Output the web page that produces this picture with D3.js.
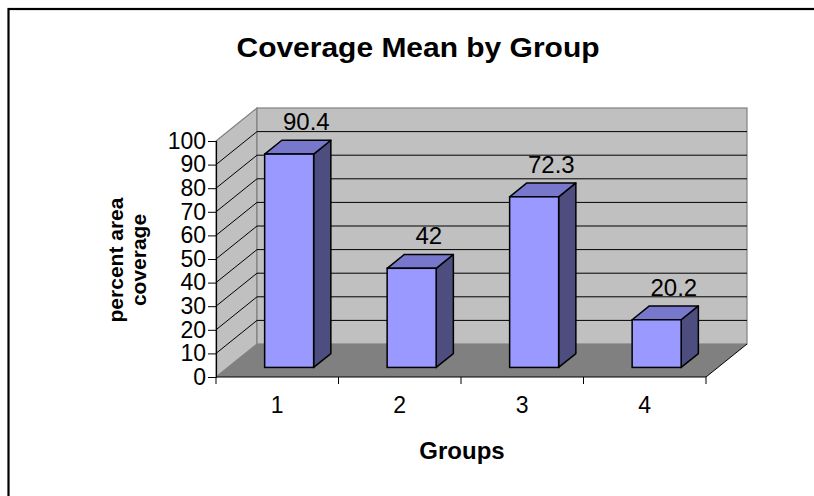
<!DOCTYPE html>
<html>
<head>
<meta charset="utf-8">
<script src="https://cdn.jsdelivr.net/npm/d3@7"></script>
<style>
  html, body { margin: 0; padding: 0; background: #fff; }
  svg { display: block; font-family: Arial, "Liberation Sans", sans-serif; }
</style>
</head>
<body>
<svg id="chart" width="814" height="496"></svg>
<script>
const categories = ["1", "2", "3", "4"];
const values = [90.4, 42, 72.3, 20.2];
const valueLabels = ["90.4", "42", "72.3", "20.2"];
const yTicks = [0, 10, 20, 30, 40, 50, 60, 70, 80, 90, 100];
const titleText = "Coverage Mean by Group";
const xTitle = "Groups";
const yTitleLines = ["percent area", "coverage"];

const svg = d3.select("#chart");

// frame
svg.append("rect").attr("x", 8.5).attr("y", 9).attr("width", 830).attr("height", 520)
  .attr("fill", "#fff").attr("stroke", "#000").attr("stroke-width", 2.2);

const DX = 41, DY = -33;       // depth offset of the plot box
const f0 = 0.29, f1 = 0.71;    // bar front/back depth fractions

const x = d3.scaleBand().domain(categories).range([216, 706]);
const y = d3.scaleLinear().domain([0, 100]).range([377, 141]);

const xl = x.range()[0], xr = x.range()[1];
const y0 = y(0), yTop = y(100);

// side wall
svg.append("polygon")
  .attr("points", [[xl, yTop], [xl + DX, yTop + DY], [xl + DX, y0 + DY], [xl, y0]].join(" "))
  .attr("fill", "#c0c0c0").attr("stroke", "#808080").attr("stroke-width", 1.2);
// back wall
svg.append("rect")
  .attr("x", xl + DX).attr("y", yTop + DY).attr("width", xr - xl).attr("height", y0 - yTop)
  .attr("fill", "#c0c0c0").attr("stroke", "#808080").attr("stroke-width", 1.2);
// floor
svg.append("polygon")
  .attr("points", [[xl, y0], [xr, y0], [xr + DX, y0 + DY], [xl + DX, y0 + DY]].join(" "))
  .attr("fill", "#808080");
svg.append("line").attr("x1", xr).attr("y1", y0).attr("x2", xr + DX).attr("y2", y0 + DY)
  .attr("stroke", "#000").attr("stroke-width", 1);

// gridlines
const grid = yTicks.filter(t => t > 0 && t < 100);
svg.append("g").selectAll("line").data(grid).join("line")
  .attr("x1", xl + DX).attr("x2", xr + DX)
  .attr("y1", d => y(d) + DY).attr("y2", d => y(d) + DY)
  .attr("stroke", "#000").attr("stroke-width", 1);
svg.append("g").selectAll("line").data(grid).join("line")
  .attr("x1", xl).attr("x2", xl + DX)
  .attr("y1", d => y(d)).attr("y2", d => y(d) + DY)
  .attr("stroke", "#000").attr("stroke-width", 1);

// y axis
const yAxis = d3.axisLeft(y).tickValues(yTicks).tickSize(8).tickPadding(2).tickFormat(d3.format("d"));
const gy = svg.append("g").attr("transform", `translate(${xl},0)`).call(yAxis);
gy.select(".domain").attr("stroke", "#000").attr("stroke-width", 1.2);
gy.selectAll(".tick line").attr("stroke", "#000");
gy.selectAll(".tick text").attr("font-size", 23).attr("fill", "#000")
  .attr("font-family", "Arial, 'Liberation Sans', sans-serif");

// x axis
const boundaries = categories.map(c => x(c)).concat([xr]);
svg.append("line").attr("x1", xl).attr("x2", xr).attr("y1", y0).attr("y2", y0)
  .attr("stroke", "#000").attr("stroke-width", 1.2);
svg.append("g").selectAll("line").data(boundaries).join("line")
  .attr("x1", d => d).attr("x2", d => d).attr("y1", y0).attr("y2", y0 + 7)
  .attr("stroke", "#000").attr("stroke-width", 1);
svg.append("g").selectAll("text").data(categories).join("text")
  .attr("x", d => x(d) + x.bandwidth() / 2).attr("y", 413)
  .attr("text-anchor", "middle").attr("font-size", 23).text(d => d);

// bars
const bw = x.bandwidth() * 0.4;
const bdx = (f1 - f0) * DX, bdy = (f1 - f0) * DY;
const data = categories.map((c, i) => ({ c, v: values[i], label: valueLabels[i] }));
const bars = svg.append("g").selectAll("g").data(data).join("g");
bars.each(function (d) {
  const g = d3.select(this);
  const L = x(d.c) + (x.bandwidth() - bw) / 2 + f0 * DX;
  const R = L + bw;
  const B = y(0) + f0 * DY;
  const T = y(d.v) + f0 * DY;
  g.append("polygon").attr("points", [[R, T], [R + bdx, T + bdy], [R + bdx, B + bdy], [R, B]].join(" "))
    .attr("fill", "#4d4d80").attr("stroke", "#000").attr("stroke-width", 1.5).attr("stroke-linejoin", "round");
  g.append("polygon").attr("points", [[L, T], [L + bdx, T + bdy], [R + bdx, T + bdy], [R, T]].join(" "))
    .attr("fill", "#7777cc").attr("stroke", "#000").attr("stroke-width", 1.5).attr("stroke-linejoin", "round");
  g.append("rect").attr("x", L).attr("y", T).attr("width", bw).attr("height", B - T)
    .attr("fill", "#9999ff").attr("stroke", "#000").attr("stroke-width", 1.5);
  g.append("text").attr("x", L + bw / 2 + bdx).attr("y", y(d.v) + f1 * DY - 10)
    .attr("text-anchor", "middle").attr("font-size", 24).text(d.label);
});

// titles
svg.append("text").attr("x", 418).attr("y", 57).attr("text-anchor", "middle")
  .attr("font-size", 28).attr("font-weight", "bold")
  .attr("textLength", 363).attr("lengthAdjust", "spacingAndGlyphs").text(titleText);
svg.append("text").attr("x", 462).attr("y", 459).attr("text-anchor", "middle")
  .attr("font-size", 24).attr("font-weight", "bold").text(xTitle);
const yt = svg.append("text").attr("transform", "translate(0,260) rotate(-90)")
  .attr("text-anchor", "middle").attr("font-size", 21).attr("font-weight", "bold");
yTitleLines.forEach((t, i) => {
  yt.append("tspan").attr("x", 0).attr("y", i === 0 ? 123 : 146).text(t);
});
</script>
</body>
</html>
